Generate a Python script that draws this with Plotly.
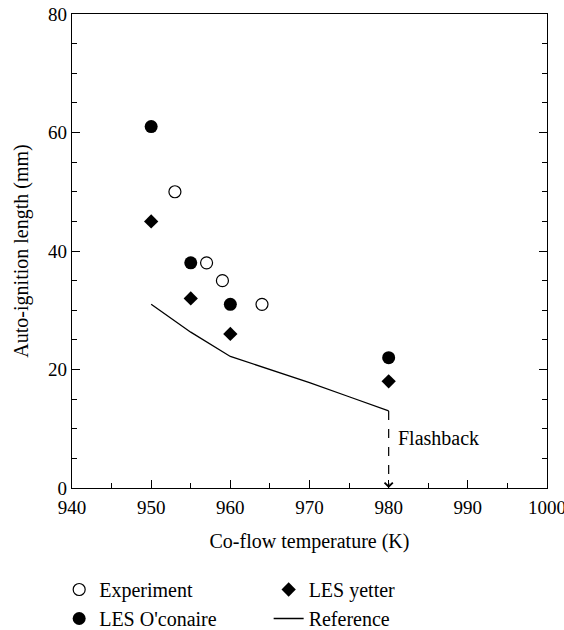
import plotly.graph_objects as go

# Auto-ignition length vs. co-flow temperature
exp_T = [953, 957, 959, 964]
exp_L = [50, 38, 35, 31]

oconaire_T = [950, 955, 960, 980]
oconaire_L = [61, 38, 31, 22]

yetter_T = [950, 955, 960, 980]
yetter_L = [45, 32, 26, 18]

ref_T = [950, 955, 960, 965, 970, 975, 980]
ref_L = [31, 26.3, 22.2, 20.0, 17.8, 15.4, 13.0]

x_ticks = [940, 950, 960, 970, 980, 990, 1000]
y_ticks = [0, 20, 40, 60, 80]

FONT = "Liberation Serif"

fig = go.Figure()

fig.add_trace(go.Scatter(
    x=exp_T, y=exp_L, mode="markers", name="Experiment",
    marker=dict(symbol="circle-open", size=12, color="black", line=dict(width=1.2)),
    legend="legend",
))
fig.add_trace(go.Scatter(
    x=oconaire_T, y=oconaire_L, mode="markers", name="LES O'conaire",
    marker=dict(symbol="circle", size=13, color="black"),
    legend="legend",
))
fig.add_trace(go.Scatter(
    x=yetter_T, y=yetter_L, mode="markers", name="LES yetter",
    marker=dict(symbol="diamond", size=11, color="black"),
    legend="legend2",
))
fig.add_trace(go.Scatter(
    x=ref_T, y=ref_L, mode="lines", name="Reference",
    line=dict(color="black", width=1.3),
    legend="legend2",
))
# Flashback: dashed drop from the last reference point to zero
fig.add_trace(go.Scatter(
    x=[ref_T[-1], ref_T[-1]], y=[ref_L[-1], 0.6], mode="lines",
    line=dict(color="black", width=1.2, dash="dash"),
    showlegend=False, hoverinfo="skip",
))
fig.add_annotation(
    x=ref_T[-1], y=0, xref="x", yref="y", ax=0, ay=-6,
    showarrow=True, arrowhead=4, arrowsize=1.6, arrowwidth=1, arrowcolor="black", text="",
)
fig.add_annotation(
    x=ref_T[-1], y=(ref_L[-1] + 0) / 2 + 2.0, xref="x", yref="y",
    text="Flashback", showarrow=False, xanchor="left", xshift=7,
    font=dict(family=FONT, size=20, color="black"),
)

axis_common = dict(
    showgrid=False, zeroline=False, showline=True, linecolor="black", linewidth=1.3,
    ticks="inside", ticklen=8, tickwidth=1.2, tickcolor="black",
    tickfont=dict(family=FONT, size=19, color="black"),
    ticklabeloverflow="allow",
)

fig.update_xaxes(
    range=[940, 1000], tickvals=x_ticks, mirror=True, tickangle=0, ticklabelstandoff=2,
    minor=dict(dtick=5, ticks="inside", ticklen=5, tickwidth=1, tickcolor="black"),
    title=dict(text="Co-flow temperature (K)", font=dict(family=FONT, size=20, color="black"), standoff=17),
    **axis_common,
)
fig.update_yaxes(
    range=[0, 80], tickvals=y_ticks, mirror="allticks",
    minor=dict(dtick=5, ticks="inside", ticklen=5, tickwidth=1, tickcolor="black"),
    title=dict(text="Auto-ignition length (mm)", font=dict(family=FONT, size=20, color="black"), standoff=14),
    **axis_common,
)

legend_common = dict(
    font=dict(family=FONT, size=20, color="black"),
    bgcolor="rgba(0,0,0,0)", yanchor="top", xanchor="left",
    tracegroupgap=0, itemwidth=30,
)

fig.update_layout(
    width=564, height=630,
    margin=dict(l=72, r=17, t=14, b=142, autoexpand=False),
    paper_bgcolor="white", plot_bgcolor="white",
    legend=dict(x=-0.027, y=-0.173, **legend_common),
    legend2=dict(x=0.414, y=-0.173, **legend_common),
)

fig.write_html("out.html")
